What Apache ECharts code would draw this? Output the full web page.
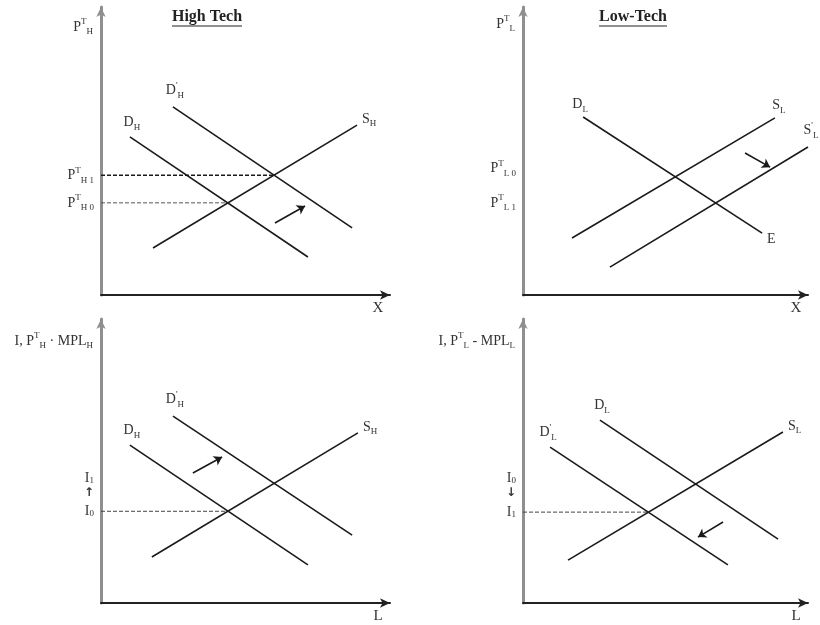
<!DOCTYPE html>
<html><head><meta charset="utf-8">
<script src="https://cdn.jsdelivr.net/npm/echarts@6/dist/echarts.min.js"></script>
<style>html,body{margin:0;padding:0;background:#fff}#c{width:820px;height:625px}</style>
</head><body><div id="c"></div>
<script>
// ---------- titles ----------
const panelTitles = ['High Tech', 'Low-Tech'];

// ---------- top-left: High Tech goods market ----------
const tlDemand    = [[10.0, 54.9], [71.6, 13.2]];
const tlDemandNew = [[24.9, 65.3], [86.9, 23.3]];
const tlSupply    = [[18.0, 16.3], [88.6, 59.0]];
const tlPrice1    = [[0, 41.6], [59.9, 41.6]];
const tlPrice0    = [[0, 32.0], [43.9, 32.0]];
const tlShift     = [[60.2, 25.0], [70.6, 30.9]];
const tlTicks     = [32.0, 41.6];
const tlTickLabels = ['{m|P}{sp|T}{sb|H 0}', '{m|P}{sp|T}{sb|H 1}'];

// ---------- top-right: Low-Tech goods market ----------
const trDemand    = [[21.1, 61.8], [83.9, 21.5]];
const trSupply    = [[17.2, 19.8], [88.4, 61.5]];
const trSupplyNew = [[30.5, 9.7], [100, 51.4]];
const trShift     = [[77.9, 49.3], [86.7, 44.4]];
const trTicks     = [32.0, 44.0];
const trTickLabels = ['{m|P}{sp|T}{sb|L 1}', '{m|P}{sp|T}{sb|L 0}'];

// ---------- bottom-left: High Tech labour market ----------
const blDemand    = [[10.0, 55.6], [71.6, 13.4]];
const blDemandNew = [[24.9, 65.8], [86.9, 23.9]];
const blSupply    = [[17.6, 16.2], [88.9, 59.9]];
const blWage0     = [[0, 32.3], [43.9, 32.3]];
const blShift     = [[31.8, 45.8], [41.9, 51.4]];
const blTicks     = [32.3, 38.7, 44.0];
const blTickLabels = ['{m|I}{sb|0}', '{ar|↑}', '{m|I}{sb|1}'];

// ---------- bottom-right: Low-Tech labour market ----------
const brDemand    = [[27.0, 64.4], [89.5, 22.5]];
const brDemandNew = [[9.5, 54.9], [71.9, 13.4]];
const brSupply    = [[15.8, 15.1], [91.2, 60.2]];
const brWage1     = [[0, 32.0], [44.0, 32.0]];
const brShift     = [[70.2, 28.5], [61.4, 23.2]];
const brTicks     = [32.0, 38.7, 44.0];
const brTickLabels = ['{m|I}{sb|1}', '{ar|↓}', '{m|I}{sb|0}'];

// ---------- axis names ----------
const yNames = [
  '{m|P}{sp|T}{sb|H}',
  '{m|P}{sp|T}{sb|L}',
  '{m|I, P}{sp|T}{sb|H}{m| · MPL}{sb|H}',
  '{m|I, P}{sp|T}{sb|L}{m| - MPL}{sb|L}'
];
const xNames = ['X', 'X', 'L', 'L'];

// ---------- styling ----------
const FONT = 'Liberation Serif, DejaVu Serif, serif';
const TXT = '#333';
const RICH = {
  m:  { fontFamily: FONT, fontSize: 14, color: TXT, lineHeight: 19 },
  sp: { fontFamily: FONT, fontSize: 9, color: TXT, lineHeight: 9, verticalAlign: 'top' },
  sb: { fontFamily: FONT, fontSize: 9, color: TXT, lineHeight: 9, verticalAlign: 'bottom' },
  ar: { fontFamily: 'DejaVu Sans', fontSize: 12, fontWeight: 'bold', color: TXT, lineHeight: 14 }
};
const RICH_TICK = {
  m:  { fontFamily: FONT, fontSize: 14, color: TXT, lineHeight: 14 },
  sp: { fontFamily: FONT, fontSize: 9, color: TXT, lineHeight: 7, verticalAlign: 'top' },
  sb: { fontFamily: FONT, fontSize: 9, color: TXT, lineHeight: 7, verticalAlign: 'bottom' },
  ar: { fontFamily: 'DejaVu Sans', fontSize: 12, fontWeight: 'bold', color: TXT, lineHeight: 10 }
};

const grids = [
  { left: 101, top: 7,   width: 289, height: 288 },
  { left: 523, top: 7,   width: 285, height: 288 },
  { left: 101, top: 319, width: 289, height: 284 },
  { left: 523, top: 319, width: 285, height: 284 }
];
const tickSets = [[tlTicks, tlTickLabels], [trTicks, trTickLabels], [blTicks, blTickLabels], [brTicks, brTickLabels]];
const yNameGaps = [-20, -17, -22, -22];

const xAxes = grids.map((g, i) => ({
  gridIndex: i, type: 'value', min: 0, max: 100,
  axisLine: { show: true, symbol: ['none', 'arrow'], symbolSize: [7, 10], lineStyle: { color: '#222', width: 2 } },
  axisTick: { show: false }, axisLabel: { show: false }, splitLine: { show: false },
  name: xNames[i], nameLocation: 'end', nameGap: -12,
  nameTextStyle: { fontFamily: FONT, fontSize: 15, color: TXT, align: 'center', verticalAlign: 'top', padding: [6, 0, 0, 0] }
}));

const yAxes = grids.map((g, i) => ({
  gridIndex: i, type: 'value', min: 0, max: 100,
  axisLine: { show: true, symbol: ['none', 'arrow'], symbolSize: [7, 10], lineStyle: { color: '#8f8f8f', width: 3 } },
  axisTick: { show: false }, splitLine: { show: false },
  axisLabel: {
    show: true, customValues: tickSets[i][0], margin: 7, rich: i < 2 ? RICH : RICH_TICK, hideOverlap: false,
    showMinLabel: true, showMaxLabel: true,
    formatter: v => {
      const t = tickSets[i][0];
      let k = 0;
      t.forEach((tv, j) => { if (Math.abs(tv - v) < Math.abs(t[k] - v)) k = j; });
      return tickSets[i][1][k];
    }
  },
  name: yNames[i], nameLocation: 'end', nameGap: yNameGaps[i],
  nameTextStyle: { align: 'right', verticalAlign: 'middle', padding: [0, 8, 0, 0], rich: RICH }
}));

// labels: { pointIndex: [text, position, offset] }
function curve(gi, data, labels) {
  return {
    type: 'line', xAxisIndex: gi, yAxisIndex: gi, silent: true, z: 3,
    symbol: 'circle', symbolSize: 0, showSymbol: true,
    lineStyle: { color: '#1a1a1a', width: 1.6 }, itemStyle: { color: '#1a1a1a' },
    label: { show: false, rich: RICH },
    data: data.map((p, j) => labels[j]
      ? { value: p, label: { show: true, formatter: labels[j][0], position: labels[j][1], offset: labels[j][2] || [0, 0], rich: RICH } }
      : { value: p })
  };
}
function dashed(gi, data, w, color) {
  return {
    type: 'line', xAxisIndex: gi, yAxisIndex: gi, silent: true, z: 2,
    symbol: 'none', data: data,
    lineStyle: { color: color, width: w, type: [4, 2] }
  };
}
function shift(gi, data) {
  return {
    type: 'lines', coordinateSystem: 'cartesian2d', xAxisIndex: gi, yAxisIndex: gi, silent: true, z: 4,
    symbol: ['none', 'arrow'], symbolSize: 8,
    lineStyle: { color: '#1a1a1a', width: 1.6, opacity: 1 },
    data: [{ coords: data }]
  };
}

const series = [
  curve(0, tlDemand, { 0: ['{m|D}{sb|H}', 'top', [2, 0]] }),
  curve(0, tlDemandNew, { 0: ["{m|D}{sp|'}{sb|H}", 'top', [2, -2]] }),
  curve(0, tlSupply, { 1: ['{m|S}{sb|H}', 'right', [0, -6]] }),
  dashed(0, tlPrice1, 1.6, '#1a1a1a'),
  dashed(0, tlPrice0, 1, '#555'),
  shift(0, tlShift),

  curve(1, trDemand, { 0: ['{m|D}{sb|L}', 'top', [-3, 2]], 1: ['{m|E}', 'right', [0, 6]] }),
  curve(1, trSupply, { 1: ['{m|S}{sb|L}', 'top', [4, 2]] }),
  curve(1, trSupplyNew, { 1: ["{m|S}{sp|'}{sb|L}", 'top', [3, -2]] }),
  shift(1, trShift),

  curve(2, blDemand, { 0: ['{m|D}{sb|H}', 'top', [2, 0]] }),
  curve(2, blDemandNew, { 0: ["{m|D}{sp|'}{sb|H}", 'top', [2, -2]] }),
  curve(2, blSupply, { 1: ['{m|S}{sb|H}', 'right', [0, -6]] }),
  dashed(2, blWage0, 1, '#444'),
  shift(2, blShift),

  curve(3, brDemand, { 0: ['{m|D}{sb|L}', 'top', [2, 0]] }),
  curve(3, brDemandNew, { 0: ["{m|D}{sp|'}{sb|L}", 'top', [-2, 0]] }),
  curve(3, brSupply, { 1: ['{m|S}{sb|L}', 'right', [0, -6]] }),
  dashed(3, brWage1, 1, '#444'),
  shift(3, brShift)
];

// measure title widths for underline
const TITLE_SIZE = 16;
const ctx = document.createElement('canvas').getContext('2d');
ctx.font = 'bold ' + TITLE_SIZE + 'px ' + FONT;
const titleCenters = [207, 633];
const underlines = panelTitles.map((t, i) => {
  const w = ctx.measureText(t).width;
  return { type: 'line', silent: true, shape: { x1: titleCenters[i] - w / 2, y1: 26, x2: titleCenters[i] + w / 2, y2: 26 }, style: { stroke: '#222', lineWidth: 1.2 } };
});

const chart = echarts.init(document.getElementById('c'), null, { renderer: 'canvas' });
chart.setOption({
  animation: false,
  backgroundColor: '#fff',
  title: panelTitles.map((t, i) => ({
    text: t, left: titleCenters[i], top: 9, textAlign: 'center', padding: 0,
    textStyle: { fontFamily: FONT, fontSize: TITLE_SIZE, fontWeight: 'bold', color: '#222' }
  })),
  grid: grids,
  xAxis: xAxes,
  yAxis: yAxes,
  series: series,
  graphic: underlines
});
</script>
</body></html>
